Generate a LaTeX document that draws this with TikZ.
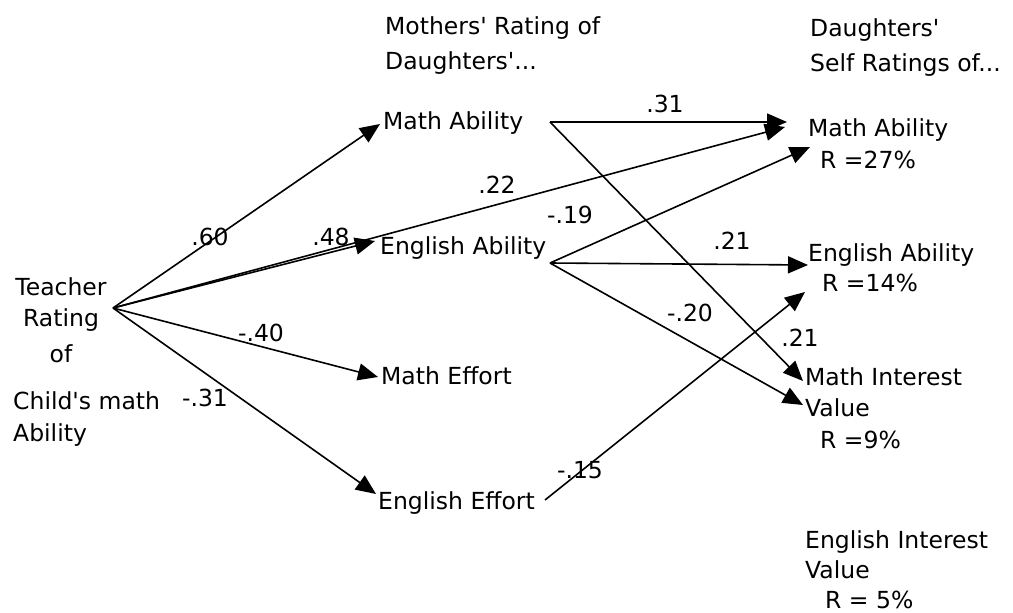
\documentclass[tikz,border=0pt]{standalone}
\usepackage{fontspec}
\setmainfont{DejaVu Sans}
\usetikzlibrary{arrows.meta,calc}
\begin{document}
\begin{tikzpicture}[x=1pt,y=-1pt,
  txt/.style={font=\fontsize{23.5}{31}\selectfont, inner sep=0pt, anchor=west, align=left},
  lbl/.style={font=\fontsize{23.5}{28}\selectfont, inner sep=0pt},
  arr/.style={line width=1.6pt, -{Triangle[length=20pt,width=17pt]}},
]
\useasboundingbox[fill=white] (0,0) rectangle (1013,613);

% left source
\node[txt, align=center, anchor=center] (teacher) at (61,320) {Teacher\\Rating\\[5pt]of};
\node[txt, font=\fontsize{23.5}{32}\selectfont] (child) at (13,419) {Child\textquotesingle s math\\Ability};
\coordinate (src) at (113,308);

% headers
\node[txt, font=\fontsize{23.5}{35}\selectfont] (mhead) at (385,46) {Mothers\textquotesingle\ Rating of\\Daughters\textquotesingle...};
\node[txt, font=\fontsize{23.5}{35}\selectfont] (dhead) at (810,48) {Daughters\textquotesingle\\Self Ratings of...};

% mothers' ratings
\node[txt] (mMath) at (383,123) {Math Ability};
\node[txt] (mEng) at (380,248) {English Ability};
\node[txt] (mMEff) at (381,376) {Math Effort};
\node[txt] (mEEff) at (378,503) {English Effort};

% daughters' self ratings
\node[txt, font=\fontsize{23.5}{32}\selectfont] (dMath) at (808,144) {Math Ability\\\hspace*{12pt}R =27\%};
\node[txt, font=\fontsize{23.5}{30}\selectfont] (dEng) at (808,268) {English Ability\\\hspace*{14pt}R =14\%};
\node[txt, font=\fontsize{23.5}{31.5}\selectfont] (dMInt) at (805,408) {Math Interest\\Value\\\hspace*{15pt}R =9\%};
\node[txt, font=\fontsize{23.5}{30}\selectfont] (dEInt) at (805,570) {English Interest\\Value\\\hspace*{20pt}R = 5\%};

% connector end points
\coordinate (mMathIn) at (380,124);
\coordinate (mEngIn) at (375,241);
\coordinate (mMEffIn) at (378,377);
\coordinate (mEEffIn) at (376,494);
\coordinate (mMathOut) at (550,122);
\coordinate (mEngOut) at (550,263);
\coordinate (mEEffOut) at (545,500);
\coordinate (dMathA) at (787,122);
\coordinate (dMathB) at (785,127);
\coordinate (dMathC) at (810,147);
\coordinate (dEngA) at (808,265);
\coordinate (dEngB) at (805,292);
\coordinate (dMIntA) at (803,381);
\coordinate (dMIntB) at (803,405);

% connectors from teacher rating
\draw[arr] (src) -- (mMathIn);
\draw[arr] (src) -- (mEngIn);
\draw[arr] (src) -- (dMathB);
\draw[arr] (src) -- (mMEffIn);
\draw[arr] (src) -- (mEEffIn);

% connectors from mothers' ratings
\draw[arr] (mMathOut) -- (dMathA);
\draw[arr] (mMathOut) -- (dMIntA);
\draw[arr] (mEngOut) -- (dMathC);
\draw[arr] (mEngOut) -- (dEngA);
\draw[arr] (mEngOut) -- (dMIntB);
\draw[arr] (mEEffOut) -- (dEngB);

% coefficients
\node[lbl] (l60) at (210,237) {.60};
\node[lbl] (l48) at (331,237) {.48};
\node[lbl] (l40) at (261,333) {-.40};
\node[lbl] (l31a) at (205,398) {-.31};
\node[lbl] (l22) at (497,185) {.22};
\node[lbl] (l31b) at (665,104) {.31};
\node[lbl] (l19) at (570,215) {-.19};
\node[lbl] (l21a) at (732,241) {.21};
\node[lbl] (l20) at (690,313) {-.20};
\node[lbl] (l21b) at (800,338) {.21};
\node[lbl] (l15) at (580,470) {-.15};
\end{tikzpicture}
\end{document}
